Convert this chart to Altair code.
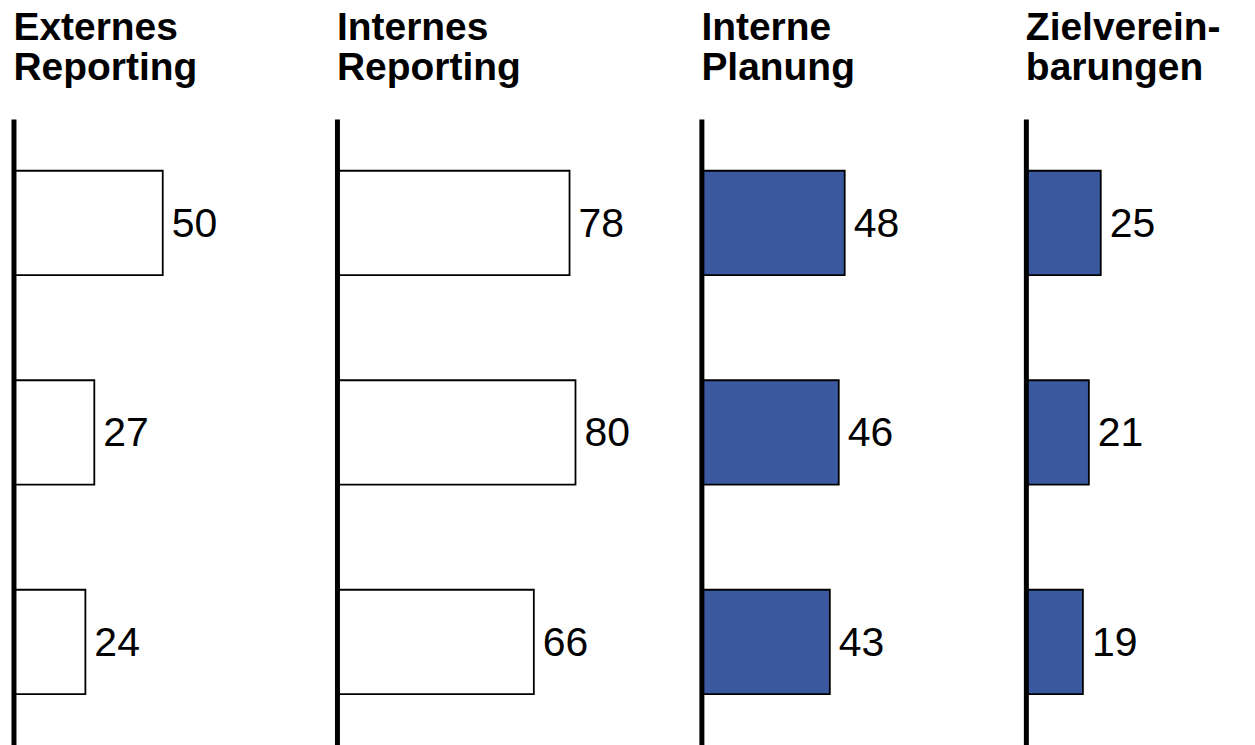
import altair as alt
import pandas as pd

# Three survey rows per panel, top to bottom
rows = ["r1", "r2", "r3"]

titles = [
    ["Externes", "Reporting"],
    ["Internes", "Reporting"],
    ["Interne", "Planung"],
    ["Zielverein-", "barungen"],
]
externes_reporting = [50, 27, 24]
internes_reporting = [78, 80, 66]
interne_planung = [48, 46, 43]
zielvereinbarungen = [25, 21, 19]
values = [externes_reporting, internes_reporting, interne_planung, zielvereinbarungen]

BLUE = "#3B59A0"
fills = ["white", "white", BLUE, BLUE]

panel_widths = [321, 362, 322, 229]
PX_PER_UNIT = 2.98
PLOT_H = 627
FONT = "Liberation Sans"


def panel(title, vals, fill, width):
    df = pd.DataFrame({"row": rows, "value": vals})
    x = alt.X(
        "value:Q",
        axis=None,
        scale=alt.Scale(domain=[0, width / PX_PER_UNIT], nice=False, zero=True),
    )
    y = alt.Y(
        "row:N",
        axis=None,
        sort=rows,
        scale=alt.Scale(paddingInner=0.502, paddingOuter=0.245),
    )
    base = alt.Chart(df)
    bars = base.mark_bar(fill=fill, stroke="black", strokeWidth=1.8).encode(x=x, y=y)
    labels = base.mark_text(
        align="left", baseline="middle", dx=9, dy=2,
        font=FONT, fontSize=41, color="black",
    ).encode(x=x, y=y, text="value:Q")
    spine = alt.Chart(pd.DataFrame({"k": [0]})).mark_rule(
        stroke="black", strokeWidth=5
    ).encode(x=alt.value(0), y=alt.value(0), y2=alt.value(PLOT_H))
    return alt.layer(bars, spine, labels).properties(
        width=width,
        height=PLOT_H,
        title=alt.Title(
            title,
            anchor="start",
            font=FONT,
            fontSize=39,
            fontWeight="bold",
            lineHeight=40,
            color="black",
            offset=29,
            dx=2,
        ),
    )


chart = alt.hconcat(
    *[panel(t, v, f, w) for t, v, f, w in zip(titles, values, fills, panel_widths)],
    spacing=0,
).properties(
    padding={"top": 8, "left": 11, "right": 0, "bottom": 0},
    background="white",
).configure_view(stroke=None)

chart.save("out.html", embed_options={"renderer": "svg", "actions": False})
